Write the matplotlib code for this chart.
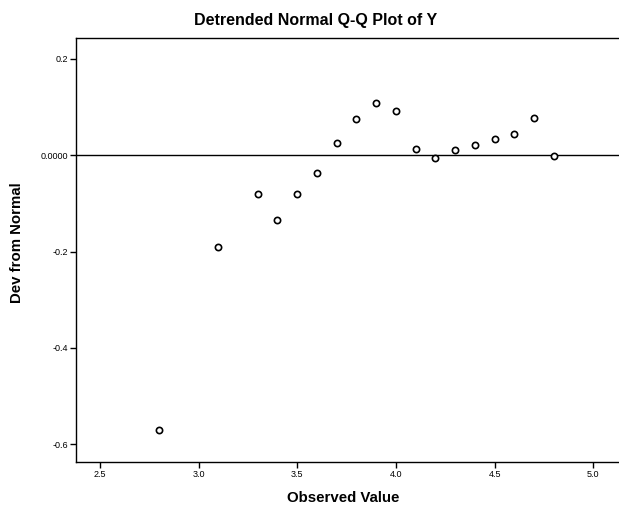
import matplotlib
matplotlib.use("Agg")
import matplotlib.pyplot as plt

observed = [2.8, 3.1, 3.3, 3.4, 3.5, 3.6, 3.7, 3.8, 3.9, 4.0,
            4.1, 4.2, 4.3, 4.4, 4.5, 4.6, 4.7, 4.8]
dev = [-0.57, -0.19, -0.081, -0.134, -0.080, -0.038, 0.026, 0.074, 0.109, 0.091,
       0.013, -0.006, 0.010, 0.021, 0.033, 0.044, 0.077, -0.001]

x_ticks = [2.5, 3.0, 3.5, 4.0, 4.5, 5.0]
x_labels = ["2.5", "3.0", "3.5", "4.0", "4.5", "5.0"]
y_ticks = [0.2, 0.0, -0.2, -0.4, -0.6]
y_labels = ["0.2", "0.0000", "-0.2", "-0.4", "-0.6"]

plt.rcParams['font.family'] = ['Liberation Sans', 'DejaVu Sans']

fig = plt.figure(figsize=(6.19, 5.14), dpi=100)
ax = fig.add_axes([0.123, 0.101, 0.877, 0.825])

ax.axhline(0.0, color='black', linewidth=1.0, zorder=1)
ax.plot(observed, dev, linestyle='none', marker='o', markersize=4.5,
        markerfacecolor='white', markeredgecolor='black', markeredgewidth=1.2, zorder=3)

ax.set_xlim(2.38, 5.13)
ax.set_ylim(-0.637, 0.243)

ax.set_xticks(x_ticks)
ax.set_xticklabels(x_labels, fontsize=6.5)
ax.set_yticks(y_ticks)
ax.set_yticklabels(y_labels, fontsize=6.5)
ax.tick_params(axis='both', direction='out', length=4, width=1.0, colors='black', pad=2)

ax.spines['right'].set_visible(False)
for s in ['left', 'bottom', 'top']:
	ax.spines[s].set_linewidth(1.0)
	ax.spines[s].set_color('black')

fig.text(0.51, 0.961, "Detrended Normal Q-Q Plot of Y", ha='center', va='center',
         fontsize=11.5, fontweight='bold')
fig.text(0.554, 0.031, "Observed Value", ha='center', va='center',
         fontsize=10.8, fontweight='bold')
fig.text(0.028, 0.527, "Dev from Normal", ha='center', va='center', rotation=90,
         fontsize=10.8, fontweight='bold')

plt.savefig('out.png', dpi=100)
